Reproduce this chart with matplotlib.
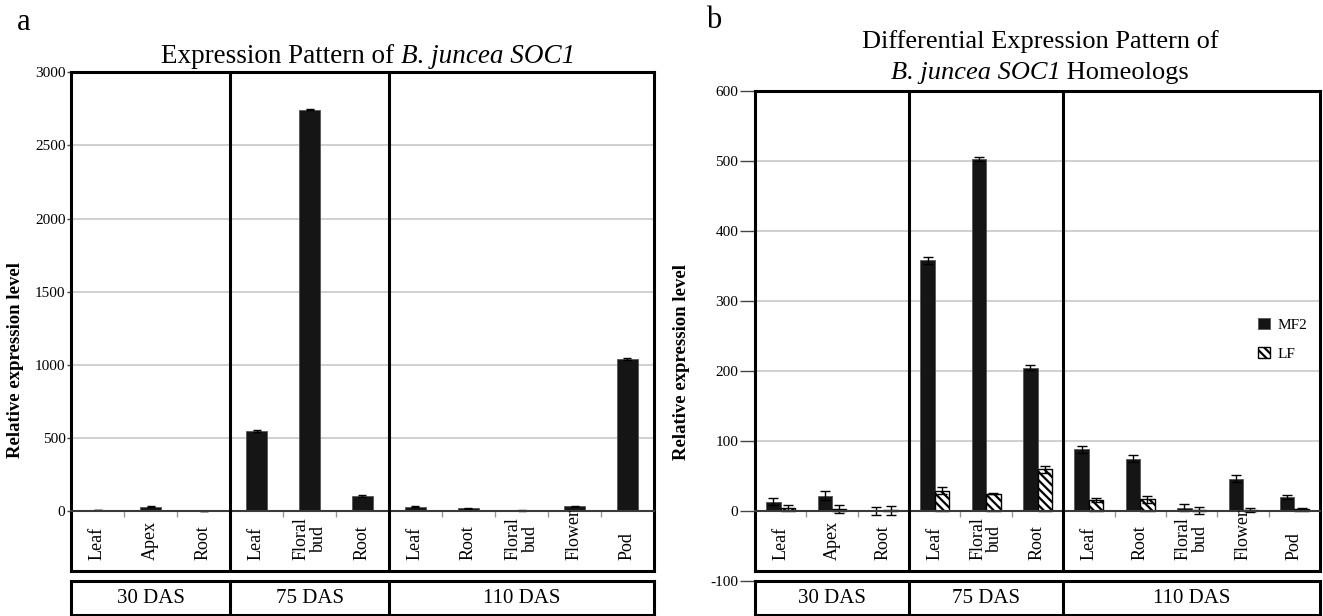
import numpy as np
import matplotlib
matplotlib.use("Agg")
import matplotlib.pyplot as plt
import matplotlib.transforms as mtransforms

plt.rcParams["font.family"] = ["Liberation Serif", "DejaVu Serif"]
plt.rcParams["hatch.linewidth"] = 1.6
plt.rcParams["axes.unicode_minus"] = False

# tissues per stage
cats = ["Leaf", "Apex", "Root",
        "Leaf", "Floral\nbud", "Root",
        "Leaf", "Root", "Floral\nbud", "Flower", "Pod"]
stages = ["30 DAS", "75 DAS", "110 DAS"]
stage_sizes = [3, 3, 5]

# panel a: total SOC1
soc1 = [8, 30, 2, 548, 2745, 105, 30, 20, 3, 33, 1040]
soc1_err = [2, 3, 1, 8, 6, 6, 3, 3, 1, 3, 7]

# panel b: homeologs
mf2 = [13, 22, 0, 358, 503, 205, 88, 75, 5, 46, 20]
mf2_err = [5, 6, 6, 5, 3, 4, 5, 5, 5, 5, 3]
lf = [5, 3, 1, 29, 25, 60, 16, 17, 1, 2, 3]
lf_err = [4, 6, 6, 5, 1, 5, 3, 5, 5, 3, 1]

W, H = 1323, 616
fig = plt.figure(figsize=(W / 100, H / 100), dpi=100)

x = np.arange(len(cats))
bounds = np.cumsum(stage_sizes)[:-1] - 0.5
inner = [b + 0.5 for b in range(len(cats) - 1) if b + 0.5 not in bounds]
centers = np.cumsum(stage_sizes) - np.array(stage_sizes) / 2 - 0.5
FRAME = 2.2
BAR = "#151515"
TICKFS = 11
CATFS = 13


def px_axes(l, t, r, b):
    return fig.add_axes([l / W, 1 - b / H, (r - l) / W, (b - t) / H])


def style_main(ax, ylo, yhi, frame_bottom, ticks, ticklen):
    ax.set_xlim(-0.5, len(cats) - 0.5)
    ax.set_ylim(ylo, yhi)
    ax.set_yticks(ticks)
    ax.tick_params(axis="y", length=ticklen, width=1, color="#444444",
                   labelsize=TICKFS, pad=1)
    ax.yaxis.grid(True, color="#c8c8c8", lw=1.2)
    ax.set_axisbelow(True)
    for s in ["left", "right", "top"]:
        ax.spines[s].set_linewidth(FRAME)
        ax.spines[s].set_color("black")
    ax.spines["left"].set_bounds(frame_bottom, yhi)
    ax.spines["right"].set_bounds(frame_bottom, yhi)
    # zero line with small ticks between tissues
    ax.spines["bottom"].set_position(("data", 0))
    ax.spines["bottom"].set_color("#3a3a3a")
    ax.spines["bottom"].set_linewidth(1.5)
    ax.set_xticks(inner)
    ax.set_xticklabels([])
    ax.tick_params(axis="x", length=4, width=1, color="#9a9a9a")
    ax.axhline(frame_bottom, color="black", lw=FRAME, clip_on=False, zorder=5)
    ax.vlines(bounds, frame_bottom, yhi, color="black", lw=FRAME, zorder=5)
    return mtransforms.blended_transform_factory(ax.transData, ax.transAxes)


def das_box(l, r):
    ax = px_axes(l, 580.7, r, 615)
    ax.set_xlim(-0.5, len(cats) - 0.5)
    ax.set_ylim(0, 1)
    ax.set_xticks([])
    ax.set_yticks([])
    for s in ax.spines.values():
        s.set_linewidth(FRAME)
    ax.vlines(bounds, 0, 1, color="black", lw=FRAME)
    for c, s in zip(centers, stages):
        ax.text(c, 0.47, s, ha="center", va="center", fontsize=15)
    return ax


def cat_labels(ax, tr, lab_y):
    for i, c in enumerate(cats):
        ax.text(i, lab_y, c, transform=tr, rotation=90, ha="center",
                va="bottom", fontsize=CATFS, linespacing=1.0)


def title_line(cx, base_y, pieces, fs):
    # pieces: (text, style) laid out left to right, centred on cx (px)
    r = fig.canvas.get_renderer()
    objs = [fig.text(0, 1 - base_y / H, t, fontsize=fs, style=st,
                     va="baseline", ha="left") for t, st in pieces]
    widths = [o.get_window_extent(r).width for o in objs]
    xpos = cx - sum(widths) / 2
    for o, w in zip(objs, widths):
        o.set_x(xpos / W)
        xpos += w


# ---- panel a ----
ax_a = px_axes(71, 72.3, 654, 571)
tr = style_main(ax_a, -410, 3000, -410, np.arange(0, 3001, 500), 3)
ax_a.bar(x, soc1, width=0.4, color=BAR, edgecolor="#555555", lw=0.6,
         yerr=soc1_err, capsize=3, error_kw=dict(lw=1, ecolor="black"))
cat_labels(ax_a, tr, (571 - 560) / (571 - 72.3))
das_box(71, 654)

# ---- panel b ----
ax_b = px_axes(755, 91, 1320, 581)
tr = style_main(ax_b, -100, 600, -86, np.arange(-100, 601, 100), 11)
bw = 0.28
ax_b.bar(x - bw / 2, mf2, width=bw, color=BAR, edgecolor="#555555", lw=0.6,
         yerr=mf2_err, capsize=3.3, error_kw=dict(lw=1, ecolor="black"),
         label="MF2")
ax_b.bar(x + bw / 2, lf, width=bw, color="white", edgecolor="black", lw=1,
         hatch="\\\\\\\\", yerr=lf_err, capsize=3.3,
         error_kw=dict(lw=1, ecolor="black"), label="LF")
cat_labels(ax_b, tr, (581 - 560) / (581 - 91))
ax_b.legend(loc="upper left", bbox_to_anchor=(0.88, 0.55), frameon=False,
            fontsize=11, handlelength=0.75, handleheight=0.75,
            handletextpad=0.5, labelspacing=1.0, borderaxespad=0)
das_box(755, 1320)

# ---- titles and labels ----
fig.text(17 / W, 1 - 30 / H, "a", fontsize=22, va="baseline")
fig.text(706 / W, 1 - 28 / H, "b", fontsize=22, va="baseline")
title_line(368, 63, [("Expression Pattern of ", "normal"),
                     ("B. juncea SOC1", "italic")], 19.5)
title_line(1040, 48, [("Differential Expression Pattern of", "normal")], 19)
title_line(1040, 79, [("B. juncea SOC1", "italic"),
                      (" Homeologs", "normal")], 19)
fig.text(16 / W, 1 - 360 / H, "Relative expression level", rotation=90,
         fontsize=13.5, fontweight="bold", ha="center", va="center")
fig.text(681 / W, 1 - 362 / H, "Relative expression level", rotation=90,
         fontsize=13.5, fontweight="bold", ha="center", va="center")

fig.savefig("out.png", dpi=100)
